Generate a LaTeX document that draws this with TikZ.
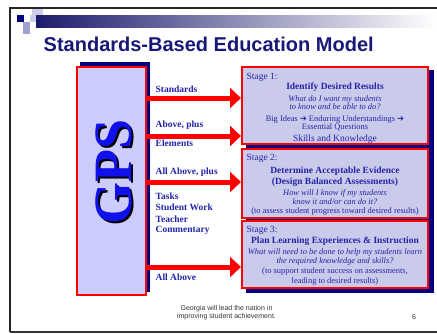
\documentclass[tikz,border=0pt]{standalone}
\usepackage{fontspec}
\setmainfont{Liberation Serif}
\newfontfamily\sansfont{Liberation Sans}
\newfontfamily\symfont{DejaVu Sans}
\usepackage{tikz}
\usetikzlibrary{arrows.meta,positioning}
\definecolor{navy}{RGB}{0,0,128}
\definecolor{barnavy}{RGB}{28,28,110}
\definecolor{titleblue}{RGB}{24,24,120}
\definecolor{textblue}{RGB}{36,36,170}
\definecolor{gpsfill}{RGB}{204,204,255}
\definecolor{stagefill}{RGB}{202,202,234}
\definecolor{gpsblue}{RGB}{16,16,235}
\definecolor{pixlight}{RGB}{205,205,232}
\definecolor{pixmid}{RGB}{160,160,210}

\begin{document}
\begin{tikzpicture}[x=1pt,y=-1pt,
  gpsbox/.style={draw=red,line width=2pt,fill=gpsfill,inner sep=0pt},
  stagebox/.style={draw=red,line width=2pt,fill=stagefill,inner sep=0pt,minimum width=186pt},
  lbl/.style={anchor=base west,inner sep=0pt,text=textblue,font=\bfseries\fontsize{9.5}{10}\selectfont},
  stagelbl/.style={anchor=base west,inner sep=0pt,text=textblue,font=\fontsize{9.5}{10}\selectfont},
  txt/.style={anchor=base,inner sep=0pt,text=textblue,font=\fontsize{8.4}{10}\selectfont},
  head/.style={txt,font=\bfseries\fontsize{9.5}{10}\selectfont},
  ask/.style={txt,font=\itshape\fontsize{8.4}{10}\selectfont},
  bigarrow/.style={red,line width=5pt,-{Triangle[length=11pt,width=20pt]}},
  foot/.style={anchor=base,inner sep=0pt,text=black!80,font=\sansfont\fontsize{7}{8}\selectfont}]
	\useasboundingbox (0,0) rectangle (437,333);
	\fill[white] (0,0) rectangle (437,333);
	\draw[black!85,line width=1.2pt] (440,8) -- (10,8) -- (10,332);
	\draw[black!80,line width=2.2pt] (10,332) -- (440,332);
	\shade[left color=barnavy,right color=white] (36,15) rectangle (437,27);
	\fill[navy] (17,15) rectangle (24,22);
	\fill[pixmid] (23,22) rectangle (30,34);
	\fill[pixlight] (30,15) rectangle (36,22);
	\fill[pixlight] (32,9) rectangle (43,15);
	\node[anchor=base west,inner sep=0pt,text=titleblue,font=\sansfont\bfseries\fontsize{20}{24}\selectfont] (title) at (43.5,51) {Standards-Based Education Model};
	\fill[navy] (80,62) rectangle (150,292);
	\fill[navy] (246,70) rectangle (433.5,293);
	\node[gpsbox,minimum width=69pt,minimum height=228pt] (gps) at (111.5,181) {};
	\node[rotate=90,inner sep=0pt,text=black,font=\bfseries\fontsize{54}{54}\selectfont] (gpsshade) at (116,174) {GPS};
	\node[rotate=90,inner sep=0pt,text=gpsblue,font=\bfseries\fontsize{54}{54}\selectfont] (gpstext) at (113.5,172) {GPS};
	\node[stagebox,minimum height=77pt] (s1) at (335,105.5) {};
	\node[stagebox,minimum height=69pt] (s2) at (335,183.5) {};
	\node[stagebox,minimum height=67pt] (s3) at (335,254.5) {};
	\coordinate (y1) at (0,98);
	\coordinate (y2) at (0,136);
	\coordinate (y3) at (0,182);
	\coordinate (y4) at (0,267);
	\draw[bigarrow] (gps.east |- y1) -- (s1.west |- y1);
	\draw[bigarrow] (gps.east |- y2) -- (s1.west |- y2);
	\draw[bigarrow] (gps.east |- y3) -- (s2.west |- y3);
	\draw[bigarrow] (gps.east |- y4) -- (s3.west |- y4);
	\node[lbl] (l1) at (155.5,92) {Standards};
	\node[lbl] (l2) at (155.5,127.5) {Above, plus};
	\node[lbl] (l3) at (155.5,146) {Elements};
	\node[lbl] (l4) at (155.5,174) {All Above, plus};
	\node[lbl] (l5) at (155.5,199) {Tasks};
	\node[lbl] (l6) at (155.5,210.5) {Student Work};
	\node[lbl] (l7) at (155.5,222) {Teacher};
	\node[lbl] (l8) at (155.5,232.5) {Commentary};
	\node[lbl] (l9) at (155.5,280.5) {All Above};
	\node[stagelbl] (n1) at (246.5,79) {Stage 1:};
	\node[head] (t1a) at (335,89) {Identify Desired Results};
	\node[ask] (t1b) at (335,101) {What do I want my students};
	\node[ask] (t1c) at (335,109.5) {to know and be able to do?};
	\node[txt] (t1d) at (335,121) {Big Ideas {\symfont\bfseries ➔} Enduring Understandings {\symfont\bfseries ➔}};
	\node[txt] (t1e) at (335,129.5) {Essential Questions};
	\node[txt,font=\fontsize{9.5}{10}\selectfont] (t1f) at (335,141.5) {Skills and Knowledge};
	\node[stagelbl] (n2) at (246.5,160.5) {Stage 2:};
	\node[head] (t2a) at (335,173.3) {Determine Acceptable Evidence};
	\node[head] (t2b) at (335,184.5) {(Design Balanced Assessments)};
	\node[ask] (t2c) at (335,195) {How will I know if my students};
	\node[ask] (t2d) at (335,204) {know it and/or can do it?};
	\node[txt] (t2e) at (335,213.5) {(to assess student progress toward desired results)};
	\node[stagelbl] (n3) at (246.5,232.7) {Stage 3:};
	\node[head] (t3a) at (335,243.5) {Plan Learning Experiences \& Instruction};
	\node[ask] (t3b) at (335,254.5) {What will need to be done to help my students learn};
	\node[ask] (t3c) at (335,263.5) {the required knowledge and skills?};
	\node[txt] (t3d) at (335,273.5) {(to support student success on assessments,};
	\node[txt] (t3e) at (335,283) {leading to desired results)};
	\node[foot] (f1) at (226.5,310.5) {Georgia will lead the nation in};
	\node[foot] (f2) at (226.5,318.5) {improving student achievement.};
	\node[foot] (page) at (414,319.5) {6};
\end{tikzpicture}
\end{document}
